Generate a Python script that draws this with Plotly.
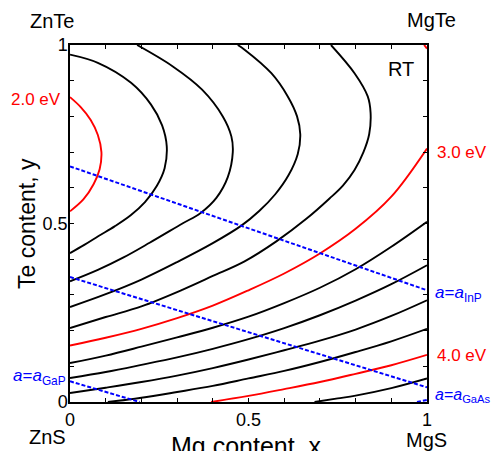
import plotly.graph_objects as go

# ---- contour lines of band gap (x = Mg content, y = Te content) ----
e20_x = [0, 0.030, 0.058, 0.078, 0.088, 0.083, 0.066, 0.038, 0]
e20_y = [0.854, 0.826, 0.790, 0.748, 0.700, 0.652, 0.610, 0.568, 0.534]

e22_x = [0, 0.078, 0.171, 0.227, 0.258, 0.271, 0.265, 0.243, 0.210, 0.170, 0.125, 0.080, 0.040, 0]
e22_y = [0.973, 0.950, 0.894, 0.833, 0.775, 0.716, 0.655, 0.605, 0.560, 0.523, 0.492, 0.465, 0.440, 0.417]

e24_x = [0.188, 0.288, 0.370, 0.428, 0.452, 0.456, 0.442, 0.410, 0.365, 0.315, 0.223, 0.150, 0.078, 0]
e24_y = [1.0, 0.940, 0.875, 0.800, 0.744, 0.700, 0.630, 0.572, 0.529, 0.500, 0.446, 0.405, 0.370, 0.338]

e26_x = [0.470, 0.489, 0.564, 0.610, 0.636, 0.645, 0.638, 0.612, 0.575, 0.530, 0.480, 0.40, 0.30, 0.20, 0.10, 0]
e26_y = [1.0, 0.987, 0.921, 0.856, 0.800, 0.750, 0.695, 0.635, 0.582, 0.535, 0.494, 0.445, 0.392, 0.343, 0.302, 0.266]

e28_x = [0.731, 0.797, 0.834, 0.842, 0.838, 0.822, 0.797, 0.765, 0.727, 0.662, 0.578, 0.489, 0.400, 0.316, 0.200, 0.100, 0]
e28_y = [1.0, 0.921, 0.856, 0.810, 0.750, 0.700, 0.650, 0.607, 0.570, 0.513, 0.450, 0.394, 0.353, 0.315, 0.268, 0.238, 0.207]

fan_x = [0, 0.1, 0.2, 0.3, 0.4, 0.5, 0.6, 0.7, 0.8, 0.9, 1.0]
e30_y = [0.158, 0.180, 0.205, 0.235, 0.270, 0.313, 0.360, 0.416, 0.485, 0.575, 0.710]
e32_y = [0.109, 0.130, 0.155, 0.181, 0.208, 0.239, 0.277, 0.320, 0.372, 0.435, 0.505]
e34_y = [0.067, 0.084, 0.104, 0.125, 0.149, 0.176, 0.207, 0.243, 0.284, 0.330, 0.383]
e36_y = [0.025, 0.040, 0.056, 0.074, 0.095, 0.119, 0.145, 0.172, 0.203, 0.241, 0.285]

e38_x = [0.106, 0.2, 0.3, 0.4, 0.5, 0.6, 0.7, 0.8, 0.9, 1.0]
e38_y = [0, 0.012, 0.028, 0.045, 0.066, 0.087, 0.112, 0.140, 0.170, 0.205]

e40_x = [0.395, 0.5, 0.6, 0.7, 0.8, 0.9, 1.0]
e40_y = [0, 0.017, 0.036, 0.056, 0.079, 0.103, 0.132]

e42_x = [0.685, 0.75, 0.8, 0.9, 1.0]
e42_y = [0, 0.010, 0.018, 0.039, 0.066]

corner_red_x = [0.992, 1.0]
corner_red_y = [1.0, 0.99]

# ---- lattice-matching lines ----
inp_x = [0, 1]
inp_y = [0.660, 0.313]
gaas_x = [0, 1]
gaas_y = [0.350, 0.041]
gap_x = [0, 0.195]
gap_y = [0.058, 0]
corner_blue_x = [0.972, 1.0]
corner_blue_y = [0.0, 0.006]

tick_vals = [i / 10 for i in range(11)]
tick_text = ["0", "", "", "", "", "0.5", "", "", "", "", "1"]

RED = "#ff0000"
BLACK = "#000000"
BLUE = "#0000ff"
FONT = "Liberation Sans, Arial, sans-serif"

fig = go.Figure()

curves = [
    (e20_x, e20_y, RED), (e22_x, e22_y, BLACK), (e24_x, e24_y, BLACK),
    (e26_x, e26_y, BLACK), (e28_x, e28_y, BLACK),
    (fan_x, e30_y, RED), (fan_x, e32_y, BLACK), (fan_x, e34_y, BLACK),
    (fan_x, e36_y, BLACK), (e38_x, e38_y, BLACK), (e40_x, e40_y, RED),
    (e42_x, e42_y, BLACK), (corner_red_x, corner_red_y, RED),
]
for cx, cy, col in curves:
    fig.add_trace(go.Scatter(x=cx, y=cy, mode="lines",
                             line=dict(color=col, width=1.9, shape="spline", smoothing=1.0),
                             hoverinfo="skip", showlegend=False))

for lx, ly in [(inp_x, inp_y), (gaas_x, gaas_y), (gap_x, gap_y), (corner_blue_x, corner_blue_y)]:
    fig.add_trace(go.Scatter(x=lx, y=ly, mode="lines",
                             line=dict(color=BLUE, width=2, dash="4px,2px"),
                             hoverinfo="skip", showlegend=False))

axis_common = dict(range=[0, 1], showgrid=False, zeroline=False, showline=True,
                   linecolor="black", linewidth=1.5, mirror="ticks", ticks="inside",
                   ticklen=4, tickwidth=1, tickcolor="black",
                   tickmode="array", tickvals=tick_vals, ticktext=tick_text,
                   tickfont=dict(family=FONT, size=18, color="black"), fixedrange=True)

# page body has an 8px margin, so the plot box is shifted back by 8px
fig.update_layout(
    width=499, height=451,
    margin=dict(l=62, r=80, t=37, b=57),
    paper_bgcolor="white", plot_bgcolor="white",
    xaxis=dict(**axis_common, ticklabelstandoff=1),
    yaxis=dict(**axis_common, ticklabelstandoff=-3),
    font=dict(family=FONT, color="black"),
)

# page-pixel -> paper coordinates (plot box on page: x 70..427, y 45..402)
def px2paper(px, py):
    return (px - 70.0) / 357.0, (402.0 - py) / 357.0

ann = [
    dict(text="ZnTe", x=52, y=21, size=20),
    dict(text="MgTe", x=431, y=20, size=20),
    dict(text="ZnS", x=47, y=437, size=20),
    dict(text="MgS", x=426, y=440, size=20),
    dict(text="RT", x=401, y=69, size=20),
]
for a in ann:
    xp, yp = px2paper(a["x"], a["y"])
    fig.add_annotation(text=a["text"], x=xp, y=yp, xref="paper", yref="paper",
                       showarrow=False, xanchor="center", yanchor="middle",
                       font=dict(family=FONT, size=a["size"], color=BLACK))

side = [
    ("2.0 eV", 63, 99, RED, "right", 17),
    ("<i>a</i>=<i>a</i><sub>GaP</sub>", 68, 377, BLUE, "right", 17),
    ("3.0 eV", 435, 152, RED, "left", 17),
    ("4.0 eV", 435, 355, RED, "left", 17),
    ("<i>a</i>=<i>a</i><sub>InP</sub>", 433, 294, BLUE, "left", 17),
    ("<i>a</i>=<i>a</i><sub>GaAs</sub>", 433, 395, BLUE, "left", 16),
]
for t, px, py, col, anc, sz in side:
    xp, yp = px2paper(px, py)
    fig.add_annotation(text=t, x=xp, y=yp, xref="paper", yref="paper",
                       showarrow=False, xanchor=anc, yanchor="middle",
                       font=dict(family=FONT, size=sz, color=col))

xp, yp = px2paper(246, 446)
fig.add_annotation(text="Mg content, x", x=xp, y=yp, xref="paper", yref="paper",
                   showarrow=False, xanchor="center", yanchor="middle",
                   font=dict(family=FONT, size=25, color=BLACK))
xp, yp = px2paper(27, 224)
fig.add_annotation(text="Te content, y", x=xp, y=yp, xref="paper", yref="paper",
                   showarrow=False, xanchor="center", yanchor="middle", textangle=-90,
                   font=dict(family=FONT, size=23, color=BLACK))

fig.write_html("out.html")
